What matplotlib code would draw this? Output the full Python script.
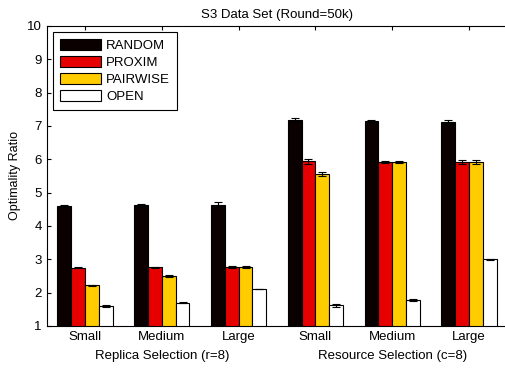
import numpy as np
import matplotlib.pyplot as plt

plt.rcParams['font.family'] = ['Liberation Sans', 'DejaVu Sans']

# categories and series
groups = ['Small', 'Medium', 'Large', 'Small', 'Medium', 'Large']
series = ['RANDOM', 'PROXIM', 'PAIRWISE', 'OPEN']
colors = ['#0a0000', '#e60000', '#ffcc00', '#ffffff']

random_vals = [4.61, 4.63, 4.64, 7.18, 7.15, 7.11]
proxim_vals = [2.75, 2.76, 2.76, 5.94, 5.92, 5.91]
pairwise_vals = [2.22, 2.50, 2.76, 5.56, 5.92, 5.91]
open_vals = [1.60, 1.70, 2.11, 1.62, 1.78, 3.00]

random_err = [0.03, 0.03, 0.07, 0.05, 0.04, 0.06]
proxim_err = [0.02, 0.02, 0.03, 0.07, 0.03, 0.06]
pairwise_err = [0.02, 0.02, 0.03, 0.05, 0.04, 0.06]
open_err = [0.02, 0.01, 0.01, 0.05, 0.03, 0.02]

values = [random_vals, proxim_vals, pairwise_vals, open_vals]
errors = [random_err, proxim_err, pairwise_err, open_err]

fig = plt.figure(figsize=(5.06, 3.70), dpi=100)
ax = fig.add_axes([0.0921, 0.119, 0.9107, 0.811])

x = np.arange(1, len(groups) + 1)
w = 0.18
offsets = [-1.5 * w, -0.5 * w, 0.5 * w, 1.5 * w]

for vals, errs, col, off, name in zip(values, errors, colors, offsets, series):
    ax.bar(x + off, vals, w, bottom=0, color=col, edgecolor='black',
           linewidth=0.8, label=name, zorder=2)
    ax.errorbar(x + off, vals, yerr=errs, fmt='none', ecolor='black',
                elinewidth=0.8, capsize=3, capthick=0.8, zorder=3)

ax.set_xlim(0.5, 6.5)
ax.set_ylim(1, 10)
ax.set_yticks(range(1, 11))
ax.set_xticks(x)
ax.set_xticklabels(groups, fontsize=9.5)
ax.tick_params(axis='y', labelsize=9.5)
ax.tick_params(direction='in', top=True, right=False, length=3)
ax.spines['right'].set_visible(False)

ax.set_ylabel('Optimality Ratio', fontsize=9)
ax.set_title('S3 Data Set (Round=50k)', fontsize=9.5, pad=6)

trans = ax.get_xaxis_transform()
ax.text(2, -0.10, 'Replica Selection (r=8)', transform=trans,
        ha='center', va='center', fontsize=9.5)
ax.text(5, -0.10, 'Resource Selection (c=8)', transform=trans,
        ha='center', va='center', fontsize=9.5)

leg = ax.legend(loc='upper left', fontsize=9.5, handlelength=3.1,
                handleheight=0.9, labelspacing=0.3, borderpad=0.55,
                handletextpad=0.4, fancybox=False, framealpha=1,
                edgecolor='black', bbox_to_anchor=(0.0, 1.0),
                borderaxespad=0.45)
leg.get_frame().set_linewidth(0.8)

fig.savefig('out.png', dpi=100)
